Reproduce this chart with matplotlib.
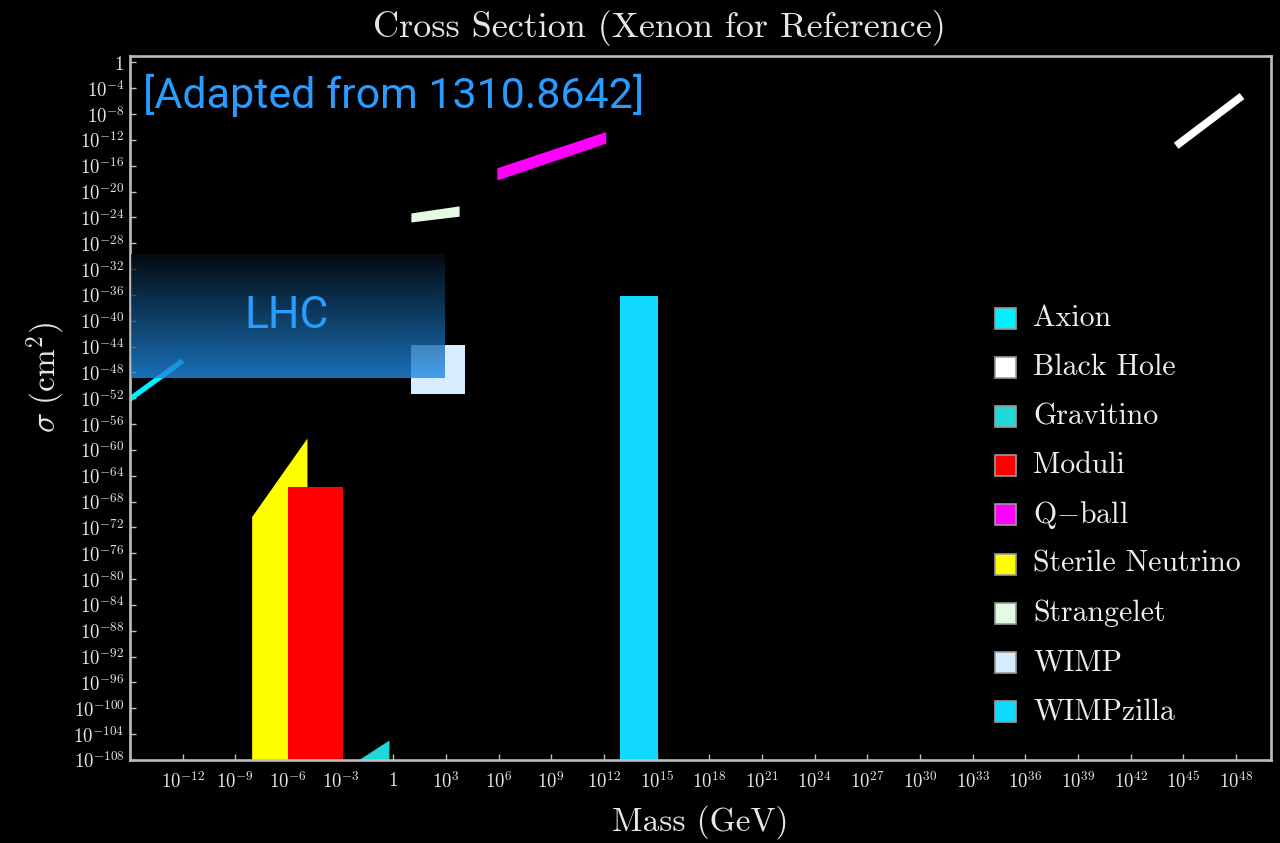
import numpy as np
import matplotlib
matplotlib.use("Agg")
import matplotlib.pyplot as plt
from matplotlib.patches import Rectangle

plt.rcParams["mathtext.fontset"] = "cm"
plt.rcParams["axes.formatter.use_mathtext"] = True

# ---- data (all values are log10 exponents: mass in GeV, sigma in cm^2) ----
x_tick_exp = list(range(-12, 49, 3))
y_tick_exp = list(range(0, -109, -4))

axion_mass = [-15.5, -12.0]
axion_sigma = [-53.1, -46.2]

black_hole_mass = [44.6, 48.35]
black_hole_sigma = [-12.9, -5.2]

gravitino_mass = [-2.12, -0.25]
gravitino_sigma_top = [-108.2, -104.9]

moduli_mass = [-6.0, -2.85]
moduli_sigma_top = [-65.8, -65.8]

qball_mass = [5.9, 12.1]
qball_sigma_lo = [-18.2, -12.5]
qball_sigma_hi = [-16.3, -10.7]

sterile_mass = [-8.07, -4.92]
sterile_sigma_top = [-70.3, -58.15]

strangelet_mass = [1.0, 3.75]
strangelet_sigma_lo = [-24.7, -23.8]
strangelet_sigma_hi = [-23.3, -22.2]

wimp_mass = [1.0, 4.08]
wimp_sigma_lo = [-51.3, -51.3]
wimp_sigma_hi = [-43.75, -43.75]

wimpzilla_mass = [12.9, 15.1]
wimpzilla_sigma_top = [-36.2, -36.2]

legend_names = ["Axion", "Black Hole", "Gravitino", "Moduli", r"Q$-$ball",
                "Sterile Neutrino", "Strangelet", "WIMP", "WIMPzilla"]
legend_colors = ["#00F0FF", "#FFFFFF", "#20D8D8", "#FF0000", "#FF00FF",
                 "#FFFF00", "#E2FBE2", "#D6ECFF", "#10D8FF"]
colors = dict(zip(["axion", "bh", "grav", "moduli", "qball", "sterile",
                   "strange", "wimp", "wzilla"], legend_colors))

X_MIN, X_MAX = -15, 50
Y_MIN, Y_MAX = -108, 1
FLOOR = -112  # bars run below the lower axis edge and are clipped there


def p(v):
    return 10.0 ** np.asarray(v, dtype=float)


W, H = 1280, 843
fig = plt.figure(figsize=(W / 100, H / 100), dpi=100, facecolor="black")


def fx(px):
    return px / W


def fy(py):
    return 1 - py / H


ax = fig.add_axes([fx(130), fy(760), (1271 - 130) / W, (760 - 56) / H])
ax.set_facecolor("black")
ax.set_axisbelow(True)
ax.set_xscale("log")
ax.set_yscale("log")
ax.set_xlim(p(X_MIN), p(X_MAX))
ax.set_ylim(p(Y_MIN), p(Y_MAX))

# ---- regions ----
ax.fill_between(p(sterile_mass), p([FLOOR, FLOOR]), p(sterile_sigma_top),
                color=colors["sterile"], lw=0, zorder=2)
ax.fill_between(p(moduli_mass), p([FLOOR, FLOOR]), p(moduli_sigma_top),
                color=colors["moduli"], lw=0, zorder=3)
ax.fill_between(p(gravitino_mass), p([FLOOR, FLOOR]), p(gravitino_sigma_top),
                color=colors["grav"], lw=0, zorder=3)
ax.fill_between(p(wimpzilla_mass), p([FLOOR, FLOOR]), p(wimpzilla_sigma_top),
                color=colors["wzilla"], lw=0, zorder=3)
ax.fill_between(p(wimp_mass), p(wimp_sigma_lo), p(wimp_sigma_hi),
                color=colors["wimp"], lw=0, zorder=3)
ax.fill_between(p(qball_mass), p(qball_sigma_lo), p(qball_sigma_hi),
                color=colors["qball"], lw=0, zorder=3)
ax.fill_between(p(strangelet_mass), p(strangelet_sigma_lo), p(strangelet_sigma_hi),
                color=colors["strange"], lw=0, zorder=3)
ax.plot(p(axion_mass), p(axion_sigma), color=colors["axion"], lw=3.8,
        solid_capstyle="butt", zorder=3)
ax.plot(p(black_hole_mass), p(black_hole_sigma), color=colors["bh"], lw=5.5,
        solid_capstyle="butt", zorder=3)

# ---- axes styling ----
spine_col = "#BDBDBD"
for s in ax.spines.values():
    s.set_color(spine_col)
    s.set_linewidth(1.9)
    s.set_zorder(5)


def exp_label(e):
    return r"$1$" if e == 0 else r"$10^{%d}$" % e


ax.set_xticks(p(x_tick_exp))
ax.set_xticklabels([exp_label(e) for e in x_tick_exp])
ax.set_yticks(p(y_tick_exp))
ax.set_yticklabels([exp_label(e) for e in y_tick_exp])
ax.minorticks_off()
ax.tick_params(axis="both", which="major", direction="in", length=4, width=1,
               color=spine_col, labelcolor="#E6E6E6", labelsize=13.5)
ax.tick_params(axis="x", pad=8)
ax.tick_params(axis="y", pad=4)

ax.set_xlabel("Mass (GeV)", family="cmr10", fontsize=24, color="#E6E6E6")
ax.xaxis.set_label_coords(0.5, -0.088)
ax.xaxis.label.set_va("center")
ax.set_ylabel(r"$\sigma\ (\mathrm{cm}^2)$", fontsize=24, color="#E6E6E6")
ax.yaxis.set_label_coords(-0.073, 0.544)
ax.yaxis.label.set_va("center")

fig.text(fx(659), fy(28), "Cross Section (Xenon for Reference)", family="cmr10",
         fontsize=26, color="#E6E6E6", ha="center", va="center")

# ---- legend ----
row_y0, row_dy = 318, 49.2
for i, (name, col) in enumerate(zip(legend_names, legend_colors)):
    yc = row_y0 + i * row_dy
    fig.patches.append(Rectangle((fx(995), fy(yc + 10.5)), 21 / W, 21 / H,
                                 transform=fig.transFigure, facecolor=col,
                                 edgecolor="#9A9A9A", lw=1.2, zorder=6))
    fig.text(fx(1033), fy(yc), name, family="cmr10", fontsize=21.5,
             color="#EDEDED", ha="left", va="center")

# ---- LHC overlay ----
lhc = fig.add_axes([fx(131), fy(378), (445 - 131) / W, (378 - 254) / H])
lhc.set_zorder(10)
lhc.patch.set_alpha(0)
t = np.linspace(0, 1, 256)[:, None, None]
top_col = np.array([0.02, 0.05, 0.08])
bot_col = np.array([0.125, 0.55, 0.90])
grad = np.ones((256, 2, 4))
grad[..., :3] = (1 - t) * top_col + t * bot_col
grad[..., 3] = 0.8
lhc.imshow(grad, aspect="auto", extent=[0, 1, 0, 1], origin="upper",
           interpolation="bilinear")
lhc.set_xlim(0, 1)
lhc.set_ylim(0, 1)
lhc.axis("off")
lhc.text(0.497, 0.5, "LHC", transform=lhc.transAxes, ha="center", va="center",
         fontsize=32, color="#2A9BFF", family="Roboto")

fig.text(fx(143), fy(95), "[Adapted from 1310.8642]", family="Roboto",
         fontsize=31, color="#2A9BFF", ha="left", va="center")

fig.savefig("out.png", dpi=100, facecolor="black")
